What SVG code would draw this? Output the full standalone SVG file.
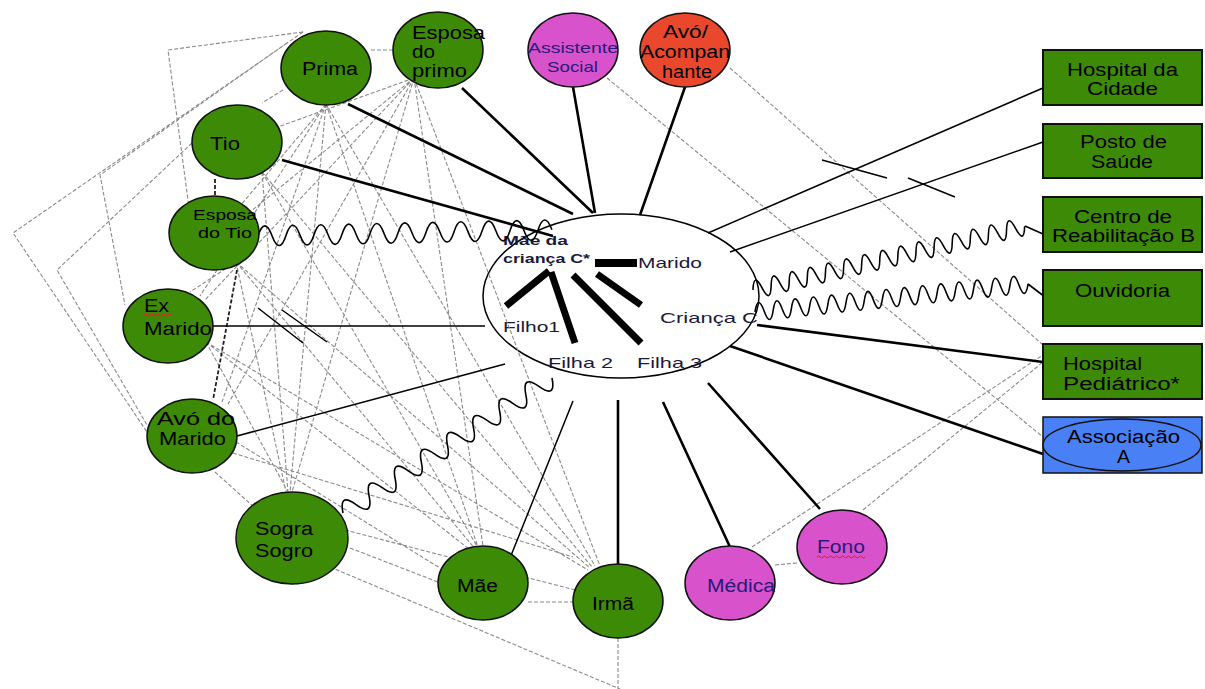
<svg xmlns="http://www.w3.org/2000/svg" width="1205" height="689" viewBox="0 0 1205 689">
<style>
.t{font-family:"Liberation Sans",Arial,sans-serif;font-size:18px;fill:#000}
.s{font-size:15px}
.p{fill:#2a1a7a}
.h{fill:#1a1a3a;font-size:15px}
.b{font-weight:bold;font-size:13px}
.gn{fill:#3d8a07;stroke:#111;stroke-width:1.5}
.mg{fill:#d752cb;stroke:#111;stroke-width:1.5}
.rd{fill:#e9482d;stroke:#111;stroke-width:1.5}
.bx{fill:#3d8a07;stroke:#111;stroke-width:2}
.bl{fill:#4a80f5;stroke:#111;stroke-width:1.5}
.dash{fill:none;stroke:#8a8a8a;stroke-width:1.1;stroke-dasharray:4 2}
.dk{fill:none;stroke:#222;stroke-width:1.8;stroke-dasharray:4 2}
.sol{fill:none;stroke:#000;stroke-width:2.6}
.thin{fill:none;stroke:#000;stroke-width:1.5}
.wave{fill:none;stroke:#000;stroke-width:1.6}
.thick{fill:none;stroke:#000;stroke-width:7}
.sq{fill:none;stroke:#e02020;stroke-width:1}
</style>
<rect width="1205" height="689" fill="#fff"/>
<g id="hub">
<ellipse cx="621" cy="296" rx="138" ry="82" fill="#fff" stroke="#000" stroke-width="1.5"/>
<rect x="595" y="259" width="42" height="8" fill="#000"/>
<path class="thick" d="M506,306 L549,271 M551,272 L575,343 M573,275 L641,343 M597,274 L641,305"/>
<text class="t h b" x="503" y="245" textLength="65" lengthAdjust="spacingAndGlyphs">Mãe da</text>
<text class="t h b" x="503" y="263" textLength="87" lengthAdjust="spacingAndGlyphs">criança C*</text>
<text class="t h" x="638" y="268" textLength="64" lengthAdjust="spacingAndGlyphs">Marido</text>
<text class="t h" x="660" y="323" textLength="98" lengthAdjust="spacingAndGlyphs">Criança C</text>
<text class="t h" x="503" y="332" textLength="57" lengthAdjust="spacingAndGlyphs">Filho1</text>
<text class="t h" x="548" y="368" textLength="65" lengthAdjust="spacingAndGlyphs">Filha 2</text>
<text class="t h" x="637" y="368" textLength="65" lengthAdjust="spacingAndGlyphs">Filha 3</text>
</g>
<g id="connectors">
<path class="dash" d="M303,32 L168,50 L190,215 M287,43 L100,175 L125,305 M303,32 L13,233 L147,432 M192,143 L57,270 L147,425 M371,50 L394,50 M283,90 L262,103
M326,104 L290,492 M326,104 L478,547 M326,104 L595,566 M326,104 L222,402 M326,104 L200,296 M326,104 L240,206
M414,78 L292,492 M414,78 L483,546 M414,78 L600,566 M414,78 L275,128 M414,78 L250,212 M414,78 L205,300 M414,78 L228,404
M262,172 L288,492 M262,172 L478,548 M262,172 L592,567
M236,262 L286,492 M236,262 L476,550 M236,262 L590,568 M236,262 L190,292
M206,342 L288,492 M206,342 L474,553 M206,342 L588,570
M215,472 L255,508 M233,453 L573,557 M236,442 L440,568
M350,548 L438,582 M330,567 L620,689 M345,530 L575,590
M528,602 L573,602 M618,638 L618,689
M607,78 L1043,437 M730,68 L1043,345 M752,547 L1043,355 M863,510 L1043,362 M775,565 L797,563"/>
<path class="dk" d="M215,179 L215,197 M237,270 L213,400"/>
<path class="sol" d="M348,104 L573,214 M282,160 L553,236 M462,88 L593,213 M573,87 L595,213 M685,87 L640,215 M708,383 L820,509 M663,402 L730,547 M618,400 L618,565 M730,346 L1043,454"/>
<path class="sol" stroke-width="2" d="M757,325 L1043,362"/>
<path class="thin" d="M708,233 L1043,88 M730,252 L1043,142 M213,326 L485,326 M237,436 L505,364 M573,401 L508,563"/>
<path class="thin" d="M822,160 L887,178 M908,178 L955,197 M258,308 L303,343 M282,310 L327,342"/>
<path class="wave" transform="translate(258,236) rotate(-1.2)" d="M0,0 q7,-20 14,0 t14,0 t14,0 t14,0 t14,0 t14,0 t14,0 t14,0 t14,0 t14,0 t14,0 t14,0 t14,0 t14,0 t14,0 t14,0 t14,0 t14,0 t14,0 t14,0 t14,0"/>
<path class="wave" transform="translate(753,290) rotate(-13.2)" d="M0,0 q4.65,-18 9.3,0 t9.3,0 t9.3,0 t9.3,0 t9.3,0 t9.3,0 t9.3,0 t9.3,0 t9.3,0 t9.3,0 t9.3,0 t9.3,0 t9.3,0 t9.3,0 t9.3,0 t9.3,0 t9.3,0 t9.3,0 t9.3,0 t9.3,0 t9.3,0 t9.3,0 t9.3,0 t9.3,0 t9.3,0 t9.3,0 t9.3,0 t9.3,0 t9.3,0 t9.3,0"/>
<path class="wave" d="M1025,226 L1043,234"/>
<path class="wave" transform="translate(755,312) rotate(-5.86)" d="M0,0 q4.575,-18 9.15,0 t9.15,0 t9.15,0 t9.15,0 t9.15,0 t9.15,0 t9.15,0 t9.15,0 t9.15,0 t9.15,0 t9.15,0 t9.15,0 t9.15,0 t9.15,0 t9.15,0 t9.15,0 t9.15,0 t9.15,0 t9.15,0 t9.15,0 t9.15,0 t9.15,0 t9.15,0 t9.15,0 t9.15,0 t9.15,0 t9.15,0 t9.15,0 t9.15,0 t9.15,0"/>
<path class="wave" d="M1028,284 L1045,297"/>
<path class="wave" transform="translate(343,513) rotate(-32.86)" d="M0,0 q7.775,-20 15.55,0 t15.55,0 t15.55,0 t15.55,0 t15.55,0 t15.55,0 t15.55,0 t15.55,0 t15.55,0 t15.55,0 t15.55,0 t15.55,0 t15.55,0 t15.55,0 t15.55,0 t15.55,0"/>
</g>
<g id="prima"><ellipse class="gn" cx="326" cy="68" rx="45" ry="37"/><text class="t" x="302" y="75" textLength="56" lengthAdjust="spacingAndGlyphs">Prima</text></g>
<g id="esposa-primo"><ellipse class="gn" cx="438" cy="50" rx="45" ry="38"/><text class="t" x="412" y="39" textLength="73" lengthAdjust="spacingAndGlyphs">Esposa</text><text class="t" x="412" y="58" textLength="23" lengthAdjust="spacingAndGlyphs">do</text><text class="t" x="412" y="77" textLength="55" lengthAdjust="spacingAndGlyphs">primo</text></g>
<g id="assistente"><ellipse class="mg" cx="573" cy="50" rx="45" ry="37"/><text class="t s p" x="528" y="53" textLength="90" lengthAdjust="spacingAndGlyphs">Assistente</text><text class="t s p" x="547" y="72" textLength="51" lengthAdjust="spacingAndGlyphs">Social</text></g>
<g id="avo-acompanhante"><ellipse class="rd" cx="685" cy="50" rx="45" ry="37"/><text class="t" x="663" y="38" textLength="45" lengthAdjust="spacingAndGlyphs">Avó/</text><text class="t" x="640" y="58" textLength="90" lengthAdjust="spacingAndGlyphs">Acompan</text><text class="t" x="662" y="78" textLength="50" lengthAdjust="spacingAndGlyphs">hante</text></g>
<g id="tio"><ellipse class="gn" cx="237" cy="142" rx="45" ry="37"/><text class="t" x="210" y="150" textLength="30" lengthAdjust="spacingAndGlyphs">Tio</text></g>
<g id="esposa-tio"><ellipse class="gn" cx="214" cy="233" rx="45" ry="37"/><text class="t s" x="193" y="220" textLength="64" lengthAdjust="spacingAndGlyphs">Esposa</text><text class="t s" x="198" y="238" textLength="54" lengthAdjust="spacingAndGlyphs">do Tio</text></g>
<g id="ex-marido"><ellipse class="gn" cx="168" cy="326" rx="45" ry="37"/><text class="t" x="144" y="312" textLength="25" lengthAdjust="spacingAndGlyphs">Ex</text><path class="sq" d="M144,315 q1.5,-2 3,0 t3,0 t3,0 t3,0 t3,0 t3,0 t3,0 t3,0 t3,0"/><text class="t" x="144" y="335" textLength="68" lengthAdjust="spacingAndGlyphs">Marido</text></g>
<g id="avo-marido"><ellipse class="gn" cx="192" cy="436" rx="45" ry="37"/><text class="t" x="157" y="425" textLength="78" lengthAdjust="spacingAndGlyphs">Avó do</text><text class="t" x="159" y="445" textLength="67" lengthAdjust="spacingAndGlyphs">Marido</text></g>
<g id="sogra-sogro"><ellipse class="gn" cx="292" cy="538" rx="56" ry="46"/><text class="t" x="255" y="535" textLength="58" lengthAdjust="spacingAndGlyphs">Sogra</text><text class="t" x="255" y="557" textLength="58" lengthAdjust="spacingAndGlyphs">Sogro</text></g>
<g id="mae"><ellipse class="gn" cx="483" cy="583" rx="45" ry="37"/><text class="t" x="457" y="592" textLength="41" lengthAdjust="spacingAndGlyphs">Mãe</text></g>
<g id="irma"><ellipse class="gn" cx="618" cy="601" rx="45" ry="37"/><text class="t" x="592" y="610" textLength="42" lengthAdjust="spacingAndGlyphs">Irmã</text></g>
<g id="medica"><ellipse class="mg" cx="730" cy="583" rx="45" ry="37"/><text class="t p" x="707" y="592" textLength="68" lengthAdjust="spacingAndGlyphs">Médica</text></g>
<g id="fono"><ellipse class="mg" cx="842" cy="547" rx="45" ry="37"/><text class="t p" x="817" y="553" textLength="48" lengthAdjust="spacingAndGlyphs">Fono</text><path class="sq" d="M817,557 q1.5,-2 3,0 t3,0 t3,0 t3,0 t3,0 t3,0 t3,0 t3,0 t3,0 t3,0 t3,0 t3,0 t3,0 t3,0 t3,0 t3,0"/></g>
<g id="hospital-cidade"><rect class="bx" x="1043" y="50" width="159" height="55"/><text class="t" x="1067" y="76" textLength="111" lengthAdjust="spacingAndGlyphs">Hospital da</text><text class="t" x="1087" y="95" textLength="71" lengthAdjust="spacingAndGlyphs">Cidade</text></g>
<g id="posto-saude"><rect class="bx" x="1043" y="124" width="159" height="54"/><text class="t" x="1080" y="148" textLength="87" lengthAdjust="spacingAndGlyphs">Posto de</text><text class="t" x="1091" y="168" textLength="62" lengthAdjust="spacingAndGlyphs">Saúde</text></g>
<g id="centro-reabilitacao"><rect class="bx" x="1043" y="197" width="159" height="55"/><text class="t" x="1074" y="223" textLength="98" lengthAdjust="spacingAndGlyphs">Centro de</text><text class="t" x="1052" y="242" textLength="143" lengthAdjust="spacingAndGlyphs">Reabilitação B</text></g>
<g id="ouvidoria"><rect class="bx" x="1043" y="270" width="159" height="56"/><text class="t" x="1075" y="297" textLength="95" lengthAdjust="spacingAndGlyphs">Ouvidoria</text></g>
<g id="hospital-pediatrico"><rect class="bx" x="1043" y="344" width="159" height="55"/><text class="t" x="1063" y="370" textLength="79" lengthAdjust="spacingAndGlyphs">Hospital</text><text class="t" x="1063" y="390" textLength="117" lengthAdjust="spacingAndGlyphs">Pediátrico*</text></g>
<g id="associacao"><rect class="bl" x="1043" y="417" width="159" height="56"/><ellipse class="bl" cx="1122" cy="445" rx="79" ry="26"/><text class="t" x="1067" y="443" textLength="113" lengthAdjust="spacingAndGlyphs">Associação</text><text class="t" x="1117" y="463" textLength="13" lengthAdjust="spacingAndGlyphs">A</text></g>
</svg>
